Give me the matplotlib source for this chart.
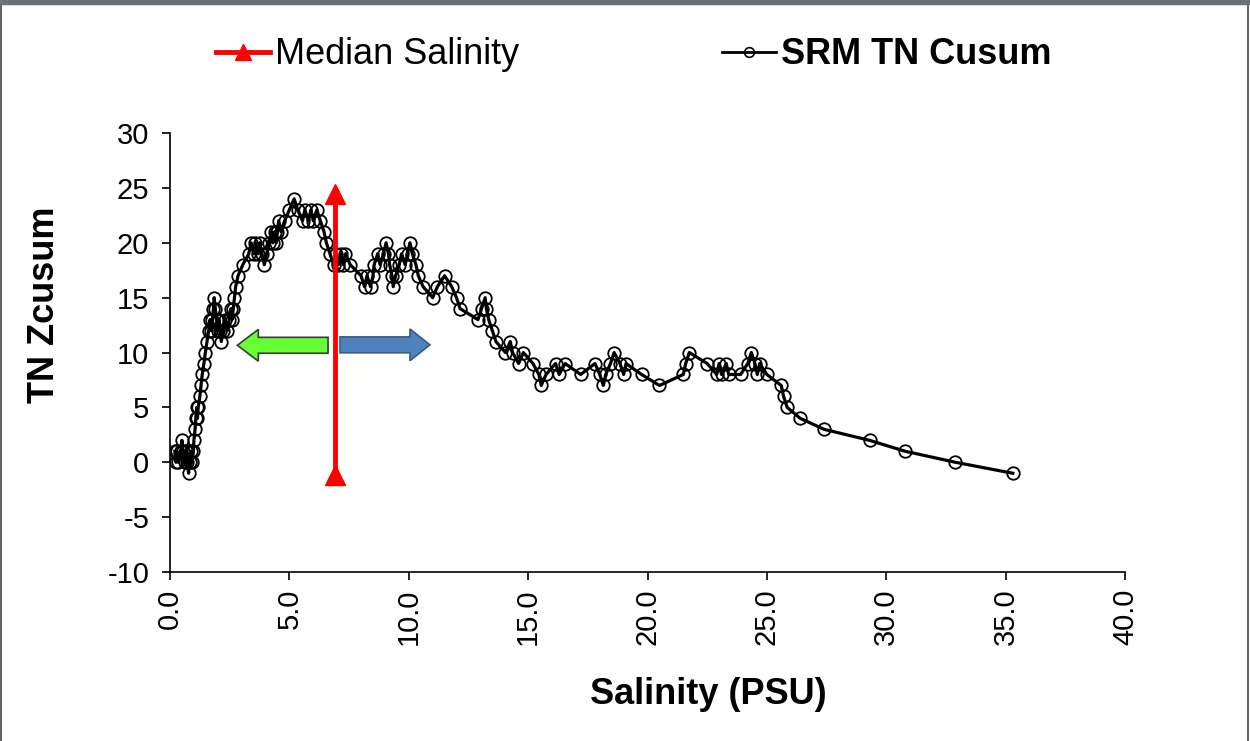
import matplotlib
matplotlib.use("Agg")
import matplotlib.pyplot as plt
from matplotlib.patches import FancyArrow, Rectangle
from matplotlib.lines import Line2D

plt.rcParams['font.family'] = ['Liberation Sans', 'DejaVu Sans']
plt.rcParams['axes.unicode_minus'] = False

# SRM TN cusum vs salinity
salinity = [0.20, 0.25, 0.30, 0.35, 0.45, 0.50, 0.55, 0.62, 0.68, 0.72, 0.78, 0.82,
            0.88, 0.92, 0.98, 1.00, 1.05, 1.08, 1.12, 1.15, 1.18, 1.25, 1.30, 1.35,
            1.42, 1.48, 1.55, 1.62, 1.68, 1.72, 1.78, 1.82, 1.85, 1.90, 1.95, 2.00,
            2.05, 2.10, 2.15, 2.22, 2.30, 2.40, 2.48, 2.55, 2.60, 2.65, 2.70, 2.75,
            2.85, 3.05, 3.30, 3.40, 3.50, 3.58, 3.70, 3.75, 3.85, 3.95, 4.05, 4.15,
            4.25, 4.30, 4.38, 4.45, 4.50, 4.55, 4.65, 4.80, 5.00, 5.20, 5.35, 5.55,
            5.65, 5.80, 5.90, 6.00, 6.15, 6.30, 6.45, 6.55, 6.70, 6.85, 6.95, 7.05,
            7.15, 7.25, 7.35, 7.55, 8.00, 8.15, 8.25, 8.40, 8.50, 8.55, 8.70, 8.80,
            8.95, 9.05, 9.15, 9.20, 9.30, 9.35, 9.45, 9.60, 9.70, 9.85, 9.95, 10.05,
            10.15, 10.30, 10.40, 10.60, 11.00, 11.20, 11.50, 11.80, 12.00, 12.15,
            12.90, 13.05, 13.20, 13.25, 13.35, 13.50, 13.65, 14.05, 14.25, 14.35,
            14.60, 14.80, 15.20, 15.45, 15.55, 15.75, 16.15, 16.30, 16.55, 17.20,
            17.80, 18.00, 18.15, 18.25, 18.45, 18.60, 18.85, 19.00, 19.10, 19.75,
            20.50, 21.50, 21.60, 21.75, 22.50, 22.90, 23.00, 23.10, 23.30, 23.40,
            23.90, 24.20, 24.35, 24.50, 24.60, 24.70, 25.00, 25.60, 25.70, 25.85,
            26.40, 27.40, 29.30, 30.80, 32.90, 35.30]
tn_cusum = [1, 0, 1, 0, 1, 2, 1, 0, 1, 0, -1, 0,
            1, 0, 1, 2, 3, 4, 5, 4, 5, 6, 7, 8,
            9, 10, 11, 12, 13, 12, 13, 14, 15, 14, 13, 12,
            13, 12, 11, 12, 13, 12, 13, 14, 13, 14, 15, 16,
            17, 18, 19, 20, 19, 20, 19, 20, 19, 18, 19, 20,
            21, 20, 21, 20, 21, 22, 21, 22, 23, 24, 23, 22,
            23, 22, 23, 22, 23, 22, 21, 20, 19, 18, 19, 18,
            19, 18, 19, 18, 17, 16, 17, 16, 17, 18, 19, 18,
            19, 20, 19, 18, 17, 16, 17, 18, 19, 18, 19, 20,
            19, 18, 17, 16, 15, 16, 17, 16, 15, 14,
            13, 14, 15, 14, 13, 12, 11, 10, 11, 10,
            9, 10, 9, 8, 7, 8, 9, 8, 9, 8,
            9, 8, 7, 8, 9, 10, 9, 8, 9, 8,
            7, 8, 9, 10, 9, 8, 9, 8, 9, 8,
            8, 9, 10, 9, 8, 9, 8, 7, 6, 5,
            4, 3, 2, 1, 0, -1]

median_salinity = 6.9
median_span = [-1.2, 24.4]

fig = plt.figure(figsize=(12.5, 7.41), dpi=100)
ax = fig.add_axes([0.136, 0.228, 0.764, 0.5925])

ax.plot(salinity, tn_cusum, color='black', lw=2.3, marker='o', ms=9,
        mfc='none', mec='black', mew=1.3, zorder=3)
ax.plot([median_salinity, median_salinity], median_span, color='red', lw=3.5,
        marker='^', ms=14, zorder=4)

# direction arrows
ax.add_patch(FancyArrow(6.62, 10.66, -3.8, 0, width=1.45, head_width=2.9,
                        head_length=0.88, length_includes_head=True,
                        fc='#66FF33', ec='#3a3a3a', lw=1.2, zorder=5))
ax.add_patch(FancyArrow(7.12, 10.7, 3.77, 0, width=1.45, head_width=2.9,
                        head_length=0.84, length_includes_head=True,
                        fc='#4F81BD', ec='#385D8A', lw=1.2, zorder=5))

ax.set_xlim(0, 40)
ax.set_ylim(-10, 30)
ax.set_xticks(range(0, 41, 5))
ax.set_xticklabels([f"{v:.1f}" for v in range(0, 41, 5)], rotation=90)
ax.set_yticks(range(-10, 31, 5))
ax.tick_params(axis='both', labelsize=21, direction='out', length=6, width=1.2)
ax.tick_params(axis='y', pad=9)
ax.tick_params(axis='x', pad=6)
for s in ['top', 'right']:
    ax.spines[s].set_visible(False)
for s in ['left', 'bottom']:
    ax.spines[s].set_linewidth(1.2)

ax.set_xlabel('Salinity (PSU)', fontsize=26, fontweight='bold')
ax.set_ylabel('TN Zcusum', fontsize=26, fontweight='bold')
ax.xaxis.set_label_coords(0.564, -0.24)
ax.yaxis.set_label_coords(-0.113, 0.608)

handles = [Line2D([], [], color='red', lw=3.5, marker='^', ms=12),
           Line2D([], [], color='black', lw=2, marker='o', ms=7, mfc='none', mew=1.2)]
leg = fig.legend(handles, ['Median Salinity', 'SRM TN Cusum'], loc='center',
                 bbox_to_anchor=(0.507, 0.926), ncol=2, frameon=False,
                 fontsize=26, handlelength=1.5, handletextpad=0.15,
                 columnspacing=5.6)
leg.get_texts()[1].set_fontweight('bold')

# window frame
fig.patches.append(Rectangle((0, 0.994), 1, 0.006, transform=fig.transFigure,
                             color='#6d7278', zorder=10))
fig.add_artist(Line2D([0, 1], [0.994, 0.994], transform=fig.transFigure,
                      color='#222222', lw=1.5))
fig.add_artist(Line2D([0.0006, 0.0006], [0, 0.994], transform=fig.transFigure,
                      color='#444444', lw=1.2))
fig.add_artist(Line2D([0.9985, 0.9985], [0, 0.994], transform=fig.transFigure,
                      color='#444444', lw=1.2))

fig.savefig('out.png', dpi=100)
